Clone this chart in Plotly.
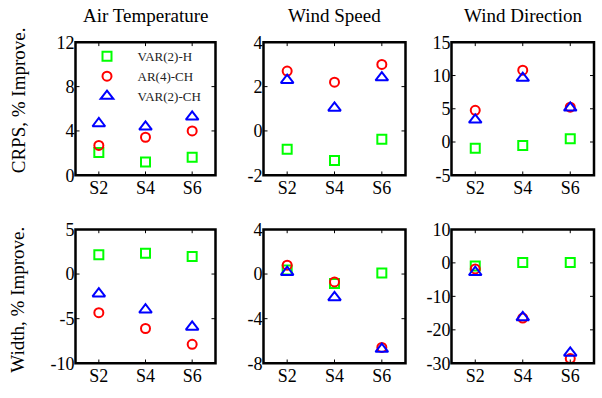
import plotly.graph_objects as go
from plotly.subplots import make_subplots

# Forecast horizons (x categories) and their numeric positions
horizons = ["S2", "S4", "S6"]
horizon_pos = [2, 4, 6]

series_names = ["VAR(2)-H", "AR(4)-CH", "VAR(2)-CH"]

# CRPS improvement (%) per variable, per series
crps_air_temp = {
    "VAR(2)-H": [2.06, 1.2, 1.63],
    "AR(4)-CH": [2.69, 3.43, 4.0],
    "VAR(2)-CH": [4.67, 4.37, 5.27],
}
crps_wind_speed = {
    "VAR(2)-H": [-0.83, -1.33, -0.37],
    "AR(4)-CH": [2.7, 2.2, 3.0],
    "VAR(2)-CH": [2.29, 1.04, 2.41],
}
crps_wind_dir = {
    "VAR(2)-H": [-0.95, -0.52, 0.48],
    "AR(4)-CH": [4.76, 10.8, 5.24],
    "VAR(2)-CH": [3.33, 9.62, 5.14],
}

# Interval width improvement (%) per variable, per series
width_air_temp = {
    "VAR(2)-H": [2.16, 2.34, 1.95],
    "AR(4)-CH": [-4.33, -6.1, -7.87],
    "VAR(2)-CH": [-2.2, -4.0, -5.92],
}
width_wind_speed = {
    "VAR(2)-H": [0.37, -0.85, 0.09],
    "AR(4)-CH": [0.79, -0.71, -6.58],
    "VAR(2)-CH": [0.17, -2.1, -6.72],
}
width_wind_dir = {
    "VAR(2)-H": [-0.95, 0.1, 0.1],
    "AR(4)-CH": [-1.8, -16.5, -28.6],
    "VAR(2)-CH": [-2.8, -16.3, -26.9],
}

column_titles = ["Air Temperature", "Wind Speed", "Wind Direction"]
row_titles = ["CRPS, % Improve.", "Width, % Improve."]

panels = [
    (crps_air_temp, [0, 12], [0, 4, 8, 12]),
    (crps_wind_speed, [-2, 4], [-2, 0, 2, 4]),
    (crps_wind_dir, [-5, 15], [-5, 0, 5, 10, 15]),
    (width_air_temp, [-10, 5], [-10, -5, 0, 5]),
    (width_wind_speed, [-8, 4], [-8, -4, 0, 4]),
    (width_wind_dir, [-30, 10], [-30, -20, -10, 0, 10]),
]

styles = {
    "VAR(2)-H": dict(symbol="square-open", color="#00ff00", size=9),
    "AR(4)-CH": dict(symbol="circle-open", color="#ff0000", size=9),
    "VAR(2)-CH": dict(symbol="triangle-up-open", color="#0000ff", size=11),
}

W, H = 602, 398
col_px = [(75.5, 215.5), (263.5, 405.5), (451.5, 594)]
row_px = [(34, 174), (231, 372)]
TICK_PX = 4

FONT = "Liberation Serif, Times New Roman, serif"

fig = make_subplots(rows=2, cols=3)
shapes = []

for i, (data, yrange, yticks) in enumerate(panels):
    r, c = divmod(i, 3)
    x0, x1 = col_px[c]
    y0, y1 = row_px[r]
    for name in series_names:
        st = styles[name]
        fig.add_trace(go.Scatter(
            x=horizon_pos, y=data[name], mode="markers", name=name,
            showlegend=(i == 0),
            marker=dict(symbol=st["symbol"], size=st["size"],
                        color=st["color"], line=dict(width=2, color=st["color"])),
            cliponaxis=False,
        ), row=r + 1, col=c + 1)
    fig.update_xaxes(
        domain=[x0 / W, x1 / W], range=[1, 7],
        tickvals=horizon_pos, ticktext=horizons,
        row=r + 1, col=c + 1,
    )
    fig.update_yaxes(
        domain=[1 - y1 / H, 1 - y0 / H], range=yrange,
        tickvals=yticks, ticktext=[str(v) for v in yticks],
        row=r + 1, col=c + 1,
    )

    # Box frame and inward tick marks on all four sides
    n = i + 1
    xr = "x" if n == 1 else f"x{n}"
    yr = "y" if n == 1 else f"y{n}"
    tx = TICK_PX / (x1 - x0)
    ty = TICK_PX / (y1 - y0)
    shapes.append(dict(type="rect", xref=f"{xr} domain", yref=f"{yr} domain",
                       x0=0, x1=1, y0=0, y1=1, layer="above",
                       line=dict(color="black", width=2.5)))
    for xv in horizon_pos:
        for ya, yb in ((0, ty), (1, 1 - ty)):
            shapes.append(dict(type="line", xref=xr, yref=f"{yr} domain",
                               x0=xv, x1=xv, y0=ya, y1=yb, layer="above",
                               line=dict(color="black", width=1)))
    for yv in yticks[1:-1]:
        for xa, xb in ((0, tx), (1, 1 - tx)):
            shapes.append(dict(type="line", xref=f"{xr} domain", yref=yr,
                               x0=xa, x1=xb, y0=yv, y1=yv, layer="above",
                               line=dict(color="black", width=1)))

axis_style = dict(
    showline=False, ticks="", showgrid=False, zeroline=False,
    tickfont=dict(family=FONT, size=18, color="black"),
)
fig.update_xaxes(**axis_style)
fig.update_yaxes(**axis_style)

annotations = []
for c, title in enumerate(column_titles):
    x0, x1 = col_px[c]
    annotations.append(dict(
        text=title, xref="paper", yref="paper",
        x=(x0 + x1) / 2 / W, y=1 - 19 / H, xanchor="center", yanchor="bottom",
        showarrow=False, font=dict(family=FONT, size=19, color="black"),
    ))

row_title_center = [95, 305]
for r, title in enumerate(row_titles):
    annotations.append(dict(
        text=title, xref="paper", yref="paper",
        x=18 / W, y=1 - row_title_center[r] / H, xanchor="center", yanchor="middle",
        textangle=-90, showarrow=False,
        font=dict(family=FONT, size=19, color="black"),
    ))

fig.update_layout(
    width=W, height=H,
    margin=dict(l=0, r=0, t=0, b=0),
    paper_bgcolor="white", plot_bgcolor="white",
    font=dict(family=FONT, size=18, color="black"),
    showlegend=True,
    legend=dict(
        x=76.5 / W, y=1 - 33 / H, xanchor="left", yanchor="top",
        bgcolor="rgba(0,0,0,0)", borderwidth=0,
        font=dict(family=FONT, size=13, color="#222222"),
        itemwidth=51, tracegroupgap=0,
    ),
    annotations=annotations,
    shapes=shapes,
)
fig.write_html("out.html")
